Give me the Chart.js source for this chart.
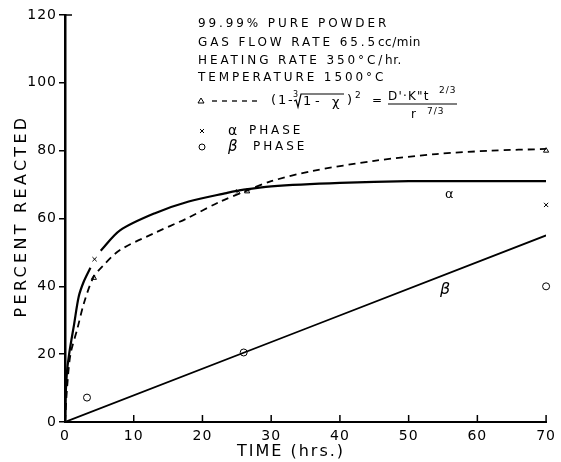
<!DOCTYPE html>
<html>
<head>
<meta charset="utf-8">
<script src="https://cdn.jsdelivr.net/npm/chart.js@4"></script>
<style>
html, body { margin: 0; padding: 0; background: #fff; }
#wrap { width: 561px; height: 462px; }
</style>
</head>
<body>
<div id="wrap"><canvas id="chart" width="561" height="462"></canvas></div>
<script>
// ticks
const xTicks = [0, 10, 20, 30, 40, 50, 60, 70];
const yTicks = [0, 20, 40, 60, 80, 100, 120];

// solid alpha curve (null = the little gap near the cross)
const alphaCurveX = [0, 0.1, 0.3, 0.6, 1.0, 1.3, 2.0, 2.75, 3.7, 4.4, 5.2, 8, 13, 18, 23.5, 26, 30, 40, 50, 60, 70];
const alphaCurveY = [0, 8, 15, 20, 25, 28.5, 37, 41.5, 45.5, null, 50.5, 56.5, 61.5, 65, 67.5, 68.5, 69.5, 70.5, 71, 71, 71];

// dashed model curve
const modelCurveX = [0, 0.3, 0.8, 1.8, 2.75, 4.1, 5.5, 8, 13, 17.7, 22.6, 26.2, 30, 36, 45, 54, 62, 70];
const modelCurveY = [0, 10, 20, 27.5, 35, 42.5, 46, 50.7, 55.7, 60, 65, 68, 71, 74, 77, 79, 80, 80.5];

// beta straight line
const betaLineX = [0, 70];
const betaLineY = [0, 55];

// measured points
const alphaPtsX = [4.3, 25.2, 70];
const alphaPtsY = [48, 68, 64];
const betaPtsX = [3.2, 26, 70];
const betaPtsY = [7.2, 20.5, 40];
const modelPtsX = [4.2, 26.5, 70];
const modelPtsY = [42.5, 68, 80];

const FONT = "'DejaVu Sans', sans-serif";

function pts(xs, ys) {
    return xs.map((x, i) => ({ x: x, y: ys[i] }));
}

// draws text pieces one after another: [text, font, spacing]
function runText(ctx, x, y, parts) {
    parts.forEach(p => {
        ctx.font = p[1] + ' ' + FONT;
        ctx.letterSpacing = p[2] + 'px';
        ctx.fillText(p[0], x, y);
        x += ctx.measureText(p[0]).width;
    });
}

const extras = {
    id: 'extras',
    beforeDraw(chart) {
        chart.ctx.letterSpacing = '1px';
    },
    afterDraw(chart) {
        const ctx = chart.ctx;
        const xs = chart.scales.x;
        const ys = chart.scales.y;
        ctx.save();
        ctx.strokeStyle = '#000';
        ctx.fillStyle = '#000';

        // x ticks pointing up
        ctx.lineWidth = 1.5;
        xTicks.forEach(v => {
            const px = xs.getPixelForValue(v);
            ctx.beginPath();
            ctx.moveTo(px, ys.bottom);
            ctx.lineTo(px, ys.bottom - 7);
            ctx.stroke();
        });
        // top tick goes right
        const topY = ys.getPixelForValue(120);
        ctx.beginPath();
        ctx.moveTo(xs.left - 1, topY);
        ctx.lineTo(xs.left + 7, topY);
        ctx.stroke();

        // axis titles
        ctx.textBaseline = 'middle';
        ctx.textAlign = 'center';
        ctx.font = '16px ' + FONT;
        ctx.letterSpacing = '2px';
        ctx.fillText('TIME (hrs.)', 291, 452);
        ctx.save();
        ctx.translate(22, 216);
        ctx.rotate(-Math.PI / 2);
        ctx.letterSpacing = '3.3px';
        ctx.fillText('PERCENT REACTED', 0, 0);
        ctx.restore();

        // notes
        ctx.textAlign = 'left';
        runText(ctx, 198, 24, [['99.99% PURE POWDER', '12px', 2.9]]);
        runText(ctx, 198, 43, [['GAS FLOW RATE 65.5', '12px', 2.9], ['cc/min', '12px', 0.5]]);
        runText(ctx, 198, 61, [['HEATING RATE 350°C/', '12px', 2.9], ['hr.', '12px', 0.5]]);
        runText(ctx, 198, 78, [['TEMPERATURE 1500°C', '12px', 2.9]]);

        // equation line
        ctx.lineWidth = 1;
        ctx.beginPath();
        ctx.moveTo(201, 98); ctx.lineTo(204, 103); ctx.lineTo(198, 103); ctx.closePath();
        ctx.stroke();
        ctx.lineWidth = 1.3;
        ctx.setLineDash([5, 5]);
        ctx.beginPath();
        ctx.moveTo(212, 101); ctx.lineTo(262, 101);
        ctx.stroke();
        ctx.setLineDash([]);
        ctx.letterSpacing = '0px';
        ctx.font = '13px ' + FONT;
        ctx.fillText('(', 271, 101);
        ctx.fillText('1', 278, 101);
        ctx.fillText('-', 288, 101);
        ctx.font = '8px ' + FONT;
        ctx.fillText('3', 293, 95);
        // radical sign
        ctx.lineWidth = 1.2;
        ctx.beginPath();
        ctx.moveTo(294, 101); ctx.lineTo(296, 100); ctx.lineTo(298, 107); ctx.lineTo(301, 94); ctx.lineTo(344, 94);
        ctx.stroke();
        ctx.font = '13px ' + FONT;
        ctx.fillText('1', 303, 102);
        ctx.fillText('-', 315, 102);
        ctx.fillText('χ', 332, 103);
        ctx.fillText(')', 347, 101);
        ctx.font = '9px ' + FONT;
        ctx.fillText('2', 355, 96);
        ctx.font = '12px ' + FONT;
        ctx.fillText('=', 372, 101);
        runText(ctx, 388, 97, [["D'·K\"", '12px', 1.2], ['t', '12px', 0]]);
        ctx.font = '9px ' + FONT;
        ctx.letterSpacing = '1px';
        ctx.fillText('2/3', 439, 91);
        ctx.fillText('7/3', 427, 112);
        ctx.font = '12px ' + FONT;
        ctx.fillText('r', 411, 115);
        ctx.beginPath();
        ctx.moveTo(388, 104); ctx.lineTo(457, 104);
        ctx.stroke();

        // legend rows
        ctx.lineWidth = 1;
        ctx.beginPath();
        ctx.moveTo(200, 129); ctx.lineTo(204, 133);
        ctx.moveTo(204, 129); ctx.lineTo(200, 133);
        ctx.stroke();
        ctx.beginPath();
        ctx.arc(202, 147, 3, 0, Math.PI * 2);
        ctx.stroke();
        ctx.letterSpacing = '0px';
        ctx.font = '14px ' + FONT;
        ctx.fillText('α', 228, 131);
        ctx.font = 'italic 15px ' + FONT;
        ctx.fillText('β', 228, 147);
        ctx.font = '12px ' + FONT;
        ctx.letterSpacing = '2.9px';
        ctx.fillText('PHASE', 249, 131);
        ctx.fillText('PHASE', 253, 147);

        // curve labels
        ctx.letterSpacing = '0px';
        ctx.font = '13px ' + FONT;
        ctx.fillText('α', 445, 195);
        ctx.font = 'italic 16px ' + FONT;
        ctx.fillText('β', 440, 290);

        ctx.restore();
    }
};

const lineStyle = {
    showLine: true,
    pointRadius: 0,
    borderColor: '#000',
    fill: false,
    tension: 0.3,
    spanGaps: false
};
const markStyle = {
    showLine: false,
    borderColor: '#000',
    backgroundColor: 'rgba(0,0,0,0)',
    borderWidth: 1,
    clip: false
};

new Chart(document.getElementById('chart'), {
    type: 'scatter',
    data: {
        datasets: [
            Object.assign({ data: pts(alphaCurveX, alphaCurveY), borderWidth: 2.2 }, lineStyle),
            Object.assign({ data: pts(modelCurveX, modelCurveY), borderWidth: 1.8, borderDash: [7, 5] }, lineStyle),
            Object.assign({ data: pts(betaLineX, betaLineY), borderWidth: 1.8 }, lineStyle),
            Object.assign({ data: pts(alphaPtsX, alphaPtsY), pointStyle: 'crossRot', pointRadius: 3 }, markStyle),
            Object.assign({ data: pts(betaPtsX, betaPtsY), pointStyle: 'circle', pointRadius: 3.5 }, markStyle),
            Object.assign({ data: pts(modelPtsX, modelPtsY), pointStyle: 'triangle', pointRadius: 3 }, markStyle)
        ]
    },
    options: {
        responsive: false,
        animation: false,
        events: [],
        layout: { padding: { top: 15, right: 11, left: 0, bottom: 0 } },
        plugins: { legend: { display: false }, tooltip: { enabled: false } },
        scales: {
            x: {
                type: 'linear',
                min: 0,
                max: 70,
                afterFit(scale) { scale.height = 40; },
                afterBuildTicks(scale) { scale.ticks = xTicks.map(v => ({ value: v })); },
                border: { display: true, color: '#000', width: 2 },
                grid: { display: false, drawTicks: false },
                ticks: { color: '#000', font: { family: FONT, size: 14 }, padding: 6, maxRotation: 0 }
            },
            y: {
                type: 'linear',
                min: 0,
                max: 120,
                afterFit(scale) { scale.width = 65; },
                afterBuildTicks(scale) { scale.ticks = yTicks.map(v => ({ value: v })); },
                border: { display: true, color: '#000', width: 2.5 },
                grid: { drawOnChartArea: false, drawTicks: true, tickLength: 6, color: '#000', lineWidth: 1.5 },
                ticks: { color: '#000', font: { family: FONT, size: 14 }, padding: 2 }
            }
        }
    },
    plugins: [extras]
});
</script>
</body>
</html>
